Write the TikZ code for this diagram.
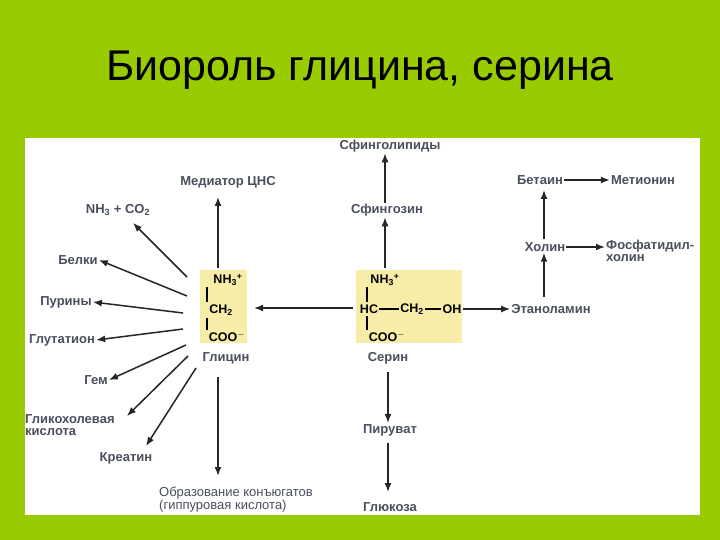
\documentclass[tikz,border=0pt]{standalone}
\usepackage{fontspec}
\setmainfont{Liberation Sans}
\usetikzlibrary{arrows.meta}
\definecolor{bg}{HTML}{99CC00}
\definecolor{box}{HTML}{F8EDA8}
\definecolor{lbl}{HTML}{4A4F5E}
\newcommand{\sbs}[1]{\textsubscript{#1}}
\newcommand{\sps}[1]{\textsuperscript{#1}}
\tikzset{x=1pt,y=-1pt,
 lab/.style={font=\fontsize{13}{14}\selectfont\bfseries, text=lbl, inner sep=1pt},
 chem/.style={font=\fontsize{12.5}{14}\selectfont\bfseries, text=black, inner sep=1pt},
 arr/.style={-{Latex[length=9pt,width=7pt]}, line width=1.5pt, black!85},
 bond/.style={line width=1.2pt}}
\begin{document}
\begin{tikzpicture}
\useasboundingbox (0,0) rectangle (720,540);
\fill[bg] (0,0) rectangle (720,540);
\fill[white] (25,138) rectangle (700,515);
\node[font=\fontsize{43}{48}\selectfont] (title) at (360,70) {Биороль глицина, серина};
\fill[box] (200,270) rectangle (247,343);
\fill[box] (356,270) rectangle (462,343);
% glycine
\node[chem] (gn) at (228,280) {NH\sbs{3}\sps{+}};
\node[chem] (gc) at (221,310) {CH\sbs{2}};
\node[chem] (go) at (227,337) {COO\sps{$-$}};
\draw[bond] (207,287)--(207,302) (207,318)--(207,330);
\node[lab] (gly) at (226,358) {Глицин};
% serine
\node[chem] (sn) at (385,280) {NH\sbs{3}\sps{+}};
\node[chem] (shc) at (369,309) {HC};
\node[chem] (sch) at (412,309) {CH\sbs{2}};
\node[chem] (soh) at (452,309) {OH};
\draw[bond] (shc)--(sch) (sch)--(soh);
\draw[bond] (367,287)--(367,302) (367,316)--(367,330);
\node[chem] (so) at (387,337) {COO\sps{$-$}};
\node[lab] (ser) at (388,358) {Серин};
% glycine products
\node[lab] (med) at (228,182) {Медиатор ЦНС};
\node[lab] (nh3) at (118,210) {NH\sbs{3} + CO\sbs{2}};
\node[lab] (bel) at (78,260) {Белки};
\node[lab] (pur) at (66,302) {Пурины};
\node[lab] (glu) at (62,340) {Глутатион};
\node[lab] (gem) at (96,380) {Гем};
\node[lab,align=left,anchor=west] (gch) at (24,425) {Гликохолевая\\[-2pt]кислота};
\node[lab] (kre) at (126,458) {Креатин};
\node[lab,font=\fontsize{13}{14}\selectfont, align=left] (obr) at (236,500) {Образование конъюгатов\\[-1pt](гиппуровая кислота)};
\coordinate (c1) at (218,268); \coordinate (c2) at (187,277);
\coordinate (c3) at (187,296); \coordinate (c4) at (183,313);
\coordinate (c5) at (183,329); \coordinate (c6) at (186,345);
\coordinate (c7) at (188,356); \coordinate (c8) at (196,368);
\coordinate (c9) at (218,377);
\draw[arr] (c1)--(218,197);
\draw[arr] (c2)--(133,223);
\draw[arr] (c3)--(bel.east);
\draw[arr] (c4)--(pur.east);
\draw[arr] (c5)--(glu.east);
\draw[arr] (c6)--(gem.east);
\draw[arr] (c7)--(127,416);
\draw[arr] (c8)--(146,446);
\draw[arr] (c9)--(218,476);
% serine links
\draw[arr] (353,308)--(254,308);
\node[lab] (sfz) at (387,210) {Сфингозин};
\node[lab] (sfl) at (390,146) {Сфинголипиды};
\draw[arr] (385,268)--(sfz.south -| 385,0);
\draw[arr] (sfz.north -| 385,0)--(sfl.south -| 385,0);
\node[lab] (eta) at (551,309) {Этаноламин};
\draw[arr] (soh.east)--(eta.west);
\node[lab] (hol) at (545,247) {Холин};
\node[lab] (bet) at (540,180) {Бетаин};
\node[lab] (met) at (643,180) {Метионин};
\node[lab,align=left,anchor=west] (fos) at (605,251) {Фосфатидил-\\[-2pt]холин};
\draw[arr] (544,297)--(hol.south -| 544,0);
\draw[arr] (544,239)--(544,190);
\draw[arr] (bet.east)--(met.west);
\draw[arr] (hol.east)--(fos.west |- hol);
\node[lab] (pir) at (390,430) {Пируват};
\node[lab] (glk) at (390,507) {Глюкоза};
\draw[arr] (388,372)--(pir.north -| 388,0);
\draw[arr] (388,443)--(388,492);
\end{tikzpicture}
\end{document}
